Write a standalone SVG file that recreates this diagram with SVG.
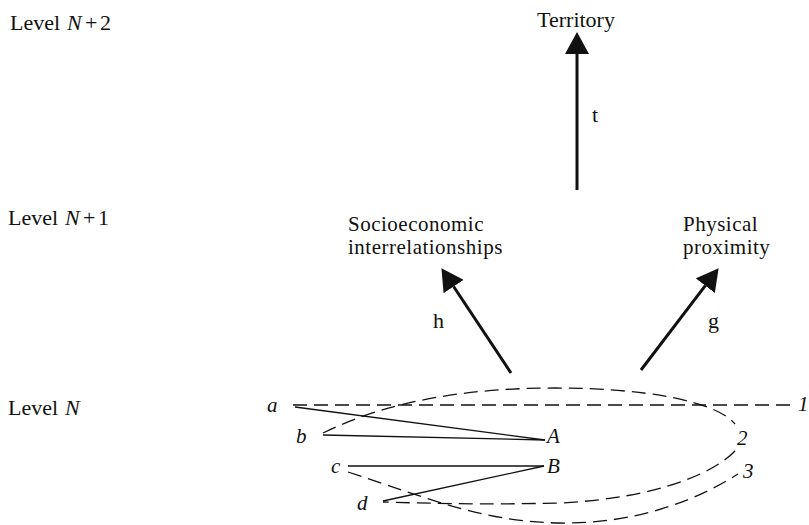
<svg xmlns="http://www.w3.org/2000/svg" width="809" height="525" viewBox="0 0 809 525">
<style>
text{font-family:"Liberation Serif","Times New Roman",serif;fill:#111;}
.lbl{font-size:22px;}
.two{font-size:21px;letter-spacing:0.5px;}
.it{font-style:italic;font-size:21px;}
.arrow{stroke:#111;stroke-width:3;fill:none;}
.solid{stroke:#111;stroke-width:1.3;fill:none;}
.dash{stroke:#111;stroke-width:1.3;fill:none;stroke-dasharray:14 7;}
</style>
<defs>
<marker id="ah" markerUnits="userSpaceOnUse" viewBox="0 0 22 24" markerWidth="22" markerHeight="24" refX="0" refY="12" orient="auto">
<path d="M0,0 L22,12 L0,24 z" fill="#111"/>
</marker>
</defs>
<rect width="809" height="525" fill="#fff"/>
<g id="levels">
<text class="lbl" y="30"><tspan x="10">Level</tspan><tspan x="67" font-style="italic">N</tspan><tspan x="85">+</tspan><tspan x="100">2</tspan></text>
<text class="lbl" y="225"><tspan x="8">Level</tspan><tspan x="65" font-style="italic">N</tspan><tspan x="83">+</tspan><tspan x="98">1</tspan></text>
<text class="lbl" y="415"><tspan x="8">Level</tspan><tspan x="65" font-style="italic">N</tspan></text>
</g>
<g id="connectors">
<line class="arrow" x1="577" y1="190" x2="577" y2="54" marker-end="url(#ah)"/>
<line class="arrow" x1="511" y1="373" x2="453.6" y2="286.5" marker-end="url(#ah)"/>
<line class="arrow" x1="641" y1="370" x2="705.3" y2="285.7" marker-end="url(#ah)"/>
<line class="solid" x1="295" y1="407" x2="545" y2="440"/>
<line class="solid" x1="323" y1="435" x2="545" y2="440"/>
<line class="solid" x1="348" y1="466" x2="544" y2="466"/>
<line class="solid" x1="544" y1="466" x2="383" y2="501"/>
<line class="dash" x1="293" y1="405" x2="795" y2="405"/>
<path class="dash" d="M323,433 C390,400 470,388 555,388 C640,388 715,400 735,424"/>
<path class="dash" d="M735,451 C715,472 660,498 560,503 C480,505 420,503 383,502"/>
<path class="dash" d="M348,472 C420,495 480,522 560,523 C640,524 700,498 738,474"/>
</g>
<g id="territory"><text class="lbl" x="576" y="27" text-anchor="middle">Territory</text></g>
<g id="label-t"><text class="lbl" x="592" y="122">t</text></g>
<g id="socioeconomic"><text class="two" x="348" y="231">Socioeconomic</text><text class="two" x="348" y="254">interrelationships</text></g>
<g id="physical"><text class="two" x="683" y="231">Physical</text><text class="two" x="683" y="254">proximity</text></g>
<g id="label-h"><text class="lbl" x="433" y="328">h</text></g>
<g id="label-g"><text class="lbl" x="708" y="328">g</text></g>
<g id="node-a"><text class="it" x="267" y="412">a</text></g>
<g id="node-b"><text class="it" x="296" y="443">b</text></g>
<g id="node-c"><text class="it" x="331" y="473">c</text></g>
<g id="node-d"><text class="it" x="357" y="510">d</text></g>
<g id="node-A"><text class="it" x="547" y="443">A</text></g>
<g id="node-B"><text class="it" x="547" y="473">B</text></g>
<g id="node-1"><text class="it" x="798" y="411">1</text></g>
<g id="node-2"><text class="it" x="737" y="445">2</text></g>
<g id="node-3"><text class="it" x="743" y="478">3</text></g>
</svg>
